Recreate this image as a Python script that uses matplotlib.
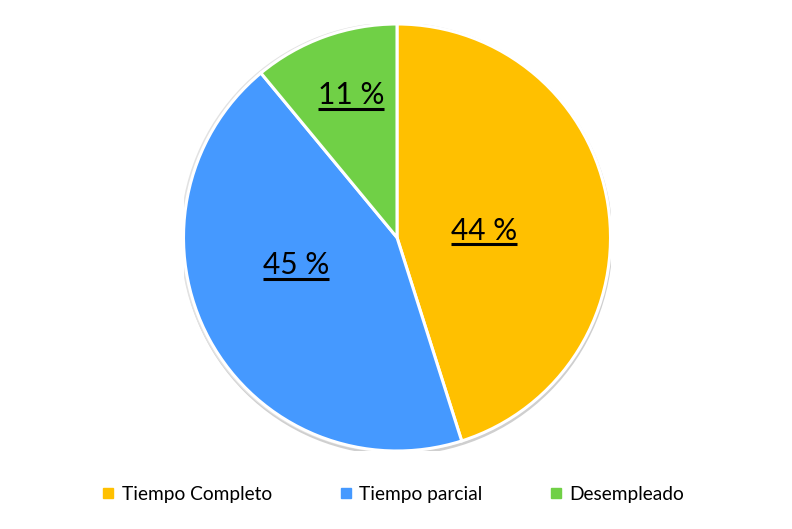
import matplotlib.pyplot as plt
import numpy as np
from matplotlib.patches import Circle

categories = ['Tiempo Completo', 'Tiempo parcial', 'Desempleado']
# slice sizes as drawn in the picture (%), and the labels printed on them
shares = [45.1, 43.9, 11.0]
labels = ['44 %', '45 %', '11 %']
colors = ['#FFC000', '#4599FF', '#70D046']

# label placement (radius as fraction of pie radius, angle in degrees)
label_r = [0.41, 0.49, 0.70]
label_ang = [4.5, 195.5, 108.0]

plt.rcParams['font.family'] = ['Lato', 'DejaVu Sans']

fig = plt.figure(figsize=(7.92, 5.29), dpi=100)
cx, cy, rad = 397, 237.5, 213.5
ax = fig.add_axes([(cx - rad) / 792, (529 - cy - rad) / 529, 2 * rad / 792, 2 * rad / 529])

# soft shadow around the pie
ax.add_patch(Circle((0.0, -0.01), 1.01, facecolor='#cfcfcf', edgecolor='none', zorder=0))
ax.add_patch(Circle((-0.007, 0), 1.008, facecolor='#e2e2e2', edgecolor='none', zorder=0))

wedges, _ = ax.pie(shares, colors=colors, startangle=90, counterclock=False, radius=1,
                   wedgeprops=dict(edgecolor='white', linewidth=2.2))
for w in wedges:
    w.set_zorder(1)
ax.set_xlim(-1, 1)
ax.set_ylim(-1, 1)
ax.set_aspect('equal')
ax.axis('off')

texts = []
for lab, r, a in zip(labels, label_r, label_ang):
    x, y = r * np.cos(np.radians(a)), r * np.sin(np.radians(a))
    t = ax.text(x, y, lab, ha='center', va='center', fontsize=21.5, color='black', zorder=3)
    texts.append(t)

# underline the data labels
fig.canvas.draw()
inv = ax.transData.inverted()
for t in texts:
    bb = t.get_window_extent()
    (x0, y0), (x1, y1) = inv.transform([[bb.x0, bb.y0], [bb.x1, bb.y1]])
    ax.plot([x0, x1], [y0 + 0.004, y0 + 0.004], color='black', lw=2.2, zorder=3,
            solid_capstyle='butt')

handles = [plt.Line2D([], [], marker='s', ls='none', markersize=7, color=c) for c in colors]
fig.legend(handles, categories, loc='center', bbox_to_anchor=(0.495, 0.066), ncol=3,
           frameon=False, fontsize=13.8, handletextpad=0.25, columnspacing=3.4,
           handlelength=0.9)

fig.savefig('out.png', dpi=100)
